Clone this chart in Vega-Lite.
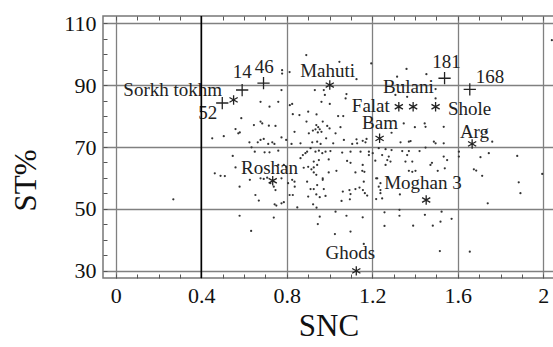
{
  "$schema": "https://vega.github.io/schema/vega-lite/v6.json",
  "width": 451,
  "height": 262,
  "autosize": {"type": "none"},
  "padding": {"left": 103, "top": 16, "right": 0, "bottom": 69},
  "background": "white",
  "config": {
    "view": {"stroke": "#777", "strokeWidth": 1.5},
    "axis": {"labelFont": "Liberation Serif", "titleFont": "Liberation Serif", "labelColor": "#111", "titleColor": "#111", "gridColor": "#808080", "gridWidth": 1.3, "tickColor": "#555", "tickWidth": 1, "domain": false},
    "text": {"font": "Liberation Serif"}
  },
  "datasets": {
    "dots": [
      {"x":0.891,"y":99.7},{"x":0.778,"y":94.8},{"x":0.778,"y":93.7},{"x":0.813,"y":94.2},{"x":0.775,"y":88.4},{"x":0.931,"y":88.4},{"x":0.973,"y":88.4},{"x":1.046,"y":97.5},{"x":1.126,"y":91.9},{"x":1.195,"y":97.0},{"x":1.360,"y":95.2},{"x":1.316,"y":92.7},{"x":1.453,"y":93.5},{"x":1.340,"y":90.0},{"x":1.496,"y":88.7},{"x":1.363,"y":86.2},{"x":1.496,"y":85.7},{"x":1.308,"y":86.8},{"x":2.04,"y":104.5},{"x":1.075,"y":85.7},
      {"x":0.677,"y":84.6},{"x":0.719,"y":83.0},{"x":0.760,"y":84.6},{"x":0.814,"y":83.5},{"x":0.587,"y":79.3},{"x":0.677,"y":78.2},{"x":0.685,"y":77.6},{"x":0.646,"y":77.1},{"x":0.716,"y":76.9},{"x":0.747,"y":76.8},{"x":0.560,"y":75.8},{"x":0.580,"y":74.7},{"x":0.573,"y":74.4},{"x":0.451,"y":72.8},{"x":0.505,"y":73.5},{"x":0.775,"y":73.1},{"x":0.625,"y":71.5},{"x":0.664,"y":71.5},{"x":0.677,"y":72.3},{"x":0.692,"y":72.6},{"x":0.713,"y":71.0},{"x":0.732,"y":71.5},{"x":0.742,"y":71.0},{"x":0.797,"y":72.3},{"x":0.650,"y":68.5},{"x":0.696,"y":68.3},{"x":0.719,"y":68.3},{"x":0.760,"y":68.8},{"x":0.547,"y":67.1},{"x":0.635,"y":69.9},{"x":0.760,"y":64.2},{"x":0.786,"y":64.2},{"x":0.797,"y":63.6},
      {"x":0.978,"y":86.8},{"x":1.079,"y":87.1},{"x":0.825,"y":83.9},{"x":0.962,"y":84.6},{"x":1.001,"y":83.9},{"x":0.828,"y":80.6},{"x":0.859,"y":80.3},{"x":0.900,"y":81.4},{"x":0.939,"y":80.5},{"x":1.040,"y":80.0},{"x":1.064,"y":80.0},{"x":0.892,"y":78.2},{"x":0.938,"y":77.1},{"x":0.947,"y":76.4},{"x":0.954,"y":75.7},{"x":0.934,"y":75.7},{"x":0.962,"y":74.9},{"x":0.945,"y":74.7},{"x":0.968,"y":78.2},{"x":0.989,"y":76.8},{"x":1.000,"y":76.0},{"x":1.051,"y":76.4},{"x":0.836,"y":74.9},{"x":0.903,"y":74.4},{"x":0.922,"y":75.3},{"x":1.028,"y":74.4},{"x":0.984,"y":72.8},{"x":0.864,"y":71.2},{"x":0.919,"y":71.5},{"x":0.942,"y":71.7},{"x":0.958,"y":71.0},{"x":1.017,"y":71.2},{"x":1.067,"y":72.3},{"x":1.126,"y":72.5},{"x":1.129,"y":71.2},{"x":1.155,"y":72.0},{"x":1.168,"y":71.5},{"x":1.173,"y":72.6},{"x":1.106,"y":71.0},{"x":0.822,"y":71.0},{"x":0.911,"y":69.6},{"x":0.895,"y":68.5},{"x":0.887,"y":68.0},{"x":0.875,"y":67.4},{"x":0.864,"y":66.4},{"x":0.934,"y":68.5},{"x":0.950,"y":68.8},{"x":0.966,"y":68.0},{"x":0.981,"y":68.5},{"x":1.004,"y":68.7},{"x":0.950,"y":65.8},{"x":0.996,"y":66.0},{"x":0.926,"y":65.3},{"x":0.942,"y":64.2},{"x":0.926,"y":63.4},{"x":1.059,"y":68.2},{"x":1.098,"y":68.5},{"x":1.082,"y":65.5},{"x":1.098,"y":64.9},{"x":1.145,"y":68.5},{"x":1.184,"y":68.5},{"x":1.155,"y":64.2},{"x":1.184,"y":67.4},{"x":1.202,"y":68.0},{"x":1.214,"y":65.6},
      {"x":1.347,"y":77.6},{"x":1.399,"y":76.4},{"x":1.445,"y":77.6},{"x":1.449,"y":76.5},{"x":1.534,"y":76.5},{"x":1.290,"y":74.6},{"x":1.332,"y":71.5},{"x":1.371,"y":71.7},{"x":1.379,"y":71.9},{"x":1.488,"y":71.7},{"x":1.496,"y":71.2},{"x":1.534,"y":71.2},{"x":1.230,"y":69.6},{"x":1.262,"y":69.3},{"x":1.290,"y":69.0},{"x":1.340,"y":68.7},{"x":1.371,"y":68.7},{"x":1.421,"y":68.7},{"x":1.449,"y":69.8},{"x":1.246,"y":67.4},{"x":1.277,"y":66.9},{"x":1.270,"y":65.8},{"x":1.285,"y":65.3},{"x":1.262,"y":64.2},{"x":1.363,"y":67.4},{"x":1.355,"y":65.3},{"x":1.387,"y":65.3},{"x":1.479,"y":64.9},{"x":1.472,"y":64.2},{"x":1.534,"y":66.9},{"x":1.550,"y":65.8},{"x":1.605,"y":68.5},{"x":1.605,"y":66.9},
      {"x":0.463,"y":61.5},{"x":0.490,"y":60.7},{"x":0.510,"y":60.6},{"x":0.560,"y":63.4},{"x":0.627,"y":59.4},{"x":0.677,"y":59.9},{"x":0.692,"y":59.7},{"x":0.708,"y":60.1},{"x":0.775,"y":59.9},{"x":0.579,"y":57.2},{"x":0.739,"y":57.2},{"x":0.747,"y":56.1},{"x":0.723,"y":58.3},{"x":0.806,"y":58.3},{"x":0.653,"y":54.5},{"x":0.669,"y":52.7},{"x":0.743,"y":51.5},{"x":0.751,"y":51.1},{"x":0.775,"y":51.8},{"x":0.786,"y":52.2},{"x":0.813,"y":54.5},{"x":0.579,"y":47.8},{"x":0.739,"y":47.2},{"x":0.633,"y":42.9},
      {"x":0.879,"y":63.3},{"x":0.900,"y":63.6},{"x":0.915,"y":62.8},{"x":0.926,"y":61.8},{"x":0.996,"y":61.8},{"x":1.032,"y":62.3},{"x":1.121,"y":61.8},{"x":1.153,"y":62.3},{"x":1.163,"y":62.0},{"x":0.825,"y":59.4},{"x":0.836,"y":58.8},{"x":0.895,"y":58.8},{"x":0.938,"y":61.0},{"x":0.968,"y":59.9},{"x":0.968,"y":59.4},{"x":0.837,"y":57.2},{"x":0.942,"y":57.7},{"x":0.911,"y":56.4},{"x":0.926,"y":56.4},{"x":0.973,"y":56.4},{"x":0.828,"y":54.5},{"x":0.938,"y":54.7},{"x":0.954,"y":53.8},{"x":0.900,"y":54.0},{"x":0.981,"y":54.2},{"x":1.062,"y":55.6},{"x":1.093,"y":56.1},{"x":1.098,"y":54.8},{"x":1.121,"y":56.4},{"x":1.140,"y":56.9},{"x":1.056,"y":52.6},{"x":1.095,"y":53.1},{"x":1.156,"y":56.1},{"x":1.165,"y":55.1},{"x":1.176,"y":54.3},{"x":1.160,"y":58.8},{"x":1.218,"y":59.9},{"x":1.218,"y":53.2},{"x":0.923,"y":51.5},{"x":0.939,"y":50.4},{"x":0.849,"y":50.5},{"x":1.028,"y":49.1},{"x":0.954,"y":47.5},{"x":1.079,"y":47.8},{"x":1.155,"y":47.3},{"x":0.945,"y":45.1},{"x":1.098,"y":42.7},{"x":1.025,"y":41.9},{"x":1.160,"y":38.7},
      {"x":1.371,"y":62.3},{"x":1.387,"y":62.0},{"x":1.402,"y":62.3},{"x":1.506,"y":62.3},{"x":1.539,"y":63.1},{"x":1.223,"y":59.9},{"x":1.238,"y":56.1},{"x":1.238,"y":55.1},{"x":1.246,"y":53.4},{"x":1.329,"y":54.7},{"x":1.238,"y":58.3},{"x":1.230,"y":57.2},{"x":1.257,"y":48.9},{"x":1.327,"y":49.7},{"x":1.327,"y":47.8},{"x":1.446,"y":48.1},{"x":1.524,"y":49.1},{"x":1.571,"y":46.8},{"x":1.519,"y":45.9},{"x":1.483,"y":44.6},{"x":1.391,"y":44.6},{"x":1.257,"y":44.5},
      {"x":1.730,"y":74.9},{"x":1.761,"y":71.7},{"x":1.745,"y":68.0},{"x":1.706,"y":66.7},{"x":1.878,"y":67.1},{"x":1.675,"y":62.8},{"x":1.686,"y":62.4},{"x":1.714,"y":60.7},{"x":1.995,"y":61.3},{"x":1.885,"y":58.6},{"x":1.893,"y":55.1},{"x":1.740,"y":51.8},{"x":1.656,"y":36.2},{"x":1.516,"y":36.4},{"x":0.269,"y":53.1}
    ],
    "markers": [
      {"name":"14","kind":"plus","x":0.591,"y":88.4},
      {"name":"46","kind":"plus","x":0.691,"y":90.6},
      {"name":"52","kind":"plus","x":0.498,"y":84.2},
      {"name":"181","kind":"plus","x":1.538,"y":92.2},
      {"name":"168","kind":"plus","x":1.656,"y":88.6},
      {"name":"Sorkh tokhm","kind":"star","x":0.551,"y":85.2},
      {"name":"Mahuti","kind":"star","x":1.001,"y":90.0},
      {"name":"Falat","kind":"star","x":1.324,"y":83.0},
      {"name":"Bulani","kind":"star","x":1.391,"y":83.0},
      {"name":"Shole","kind":"star","x":1.496,"y":83.0},
      {"name":"Bam","kind":"star","x":1.234,"y":72.8},
      {"name":"Arg","kind":"star","x":1.667,"y":71.0},
      {"name":"Roshan","kind":"star","x":0.734,"y":59.1},
      {"name":"Moghan 3","kind":"star","x":1.452,"y":52.9},
      {"name":"Ghods","kind":"star","x":1.125,"y":30.0}
    ],
    "labels": [
      {"text":"Sorkh tokhm","x":0.266,"y":88.4},
      {"text":"14","x":0.591,"y":94.2},
      {"text":"46","x":0.694,"y":95.9},
      {"text":"52","x":0.430,"y":81.1},
      {"text":"Mahuti","x":0.991,"y":94.5},
      {"text":"181","x":1.547,"y":97.5},
      {"text":"168","x":1.751,"y":92.6},
      {"text":"Bulani","x":1.369,"y":89.5},
      {"text":"Falat","x":1.193,"y":83.2},
      {"text":"Shole","x":1.655,"y":82.3},
      {"text":"Bam","x":1.236,"y":77.6},
      {"text":"Arg","x":1.678,"y":75.0},
      {"text":"Roshan","x":0.719,"y":63.2},
      {"text":"Moghan 3","x":1.437,"y":58.3},
      {"text":"Ghods","x":1.097,"y":35.7}
    ]
  },
  "encoding": {
    "y": {"field": "y", "type": "quantitative", "scale": {"domain": [27.7, 112.3], "nice": false, "zero": false},
      "axis": {"orient": "left", "title": "ST%", "titleFontSize": 31, "titleFontWeight": "normal", "titleBaseline": "middle", "titleX": -77, "titleY": 164, "titleAngle": -90,
        "values": [30,35,40,45,50,55,60,65,70,75,80,85,90,95,100,105,110],
        "labelExpr": "datum.value % 20 == 10 ? datum.label : ''",
        "labelFontSize": 22, "labelPadding": 11, "tickSize": -4, "labelFlush": false, "labelOverlap": false,
        "gridOpacity": {"condition": {"test": "datum.value % 20 == 10", "value": 1}, "value": 0}}}
  },
  "layer": [
    {
      "data": {"name": "dots"},
      "mark": {"type": "point", "shape": "circle", "filled": true, "size": 5, "color": "#333", "opacity": 1},
      "encoding": {
        "x": {"field": "x", "type": "quantitative", "scale": {"domain": [-0.06, 2.05], "nice": false, "zero": false},
          "axis": {"orient": "bottom", "title": "SNC", "titleFontSize": 31, "titleFontWeight": "normal", "titleBaseline": "middle", "titleY": 48,
            "values": [0,0.1,0.2,0.3,0.4,0.5,0.6,0.7,0.8,0.9,1,1.1,1.2,1.3,1.4,1.5,1.6,1.7,1.8,1.9,2],
            "labelExpr": "round(datum.value*10) % 4 == 0 ? format(datum.value, '~g') : ''",
            "labelFontSize": 22, "labelPadding": 11, "tickSize": -4, "labelFlush": false, "labelOverlap": false,
            "gridOpacity": {"condition": {"test": "round(datum.value*10) % 4 == 0", "value": 1}, "value": 0}}}
      }
    },
    {
      "data": {"name": "markers"},
      "transform": [{"filter": "datum.kind == 'plus'"}],
      "mark": {"type": "point", "shape": "M-1,0H1M0,-1V1", "size": 150, "filled": false, "stroke": "#222", "strokeWidth": 1.3, "opacity": 1},
      "encoding": {
        "x": {"field": "x", "type": "quantitative", "scale": {"domain": [-0.06, 2.05], "nice": false, "zero": false},
          "axis": {"orient": "top", "title": null, "labels": false, "grid": false, "tickSize": -4,
            "values": [0,0.1,0.2,0.3,0.4,0.5,0.6,0.7,0.8,0.9,1,1.1,1.2,1.3,1.4,1.5,1.6,1.7,1.8,1.9,2]}}
      }
    },
    {
      "data": {"name": "markers"},
      "transform": [{"filter": "datum.kind == 'star'"}],
      "mark": {"type": "point", "shape": "M0,-1V1M-0.866,-0.5L0.866,0.5M-0.866,0.5L0.866,-0.5", "size": 90, "filled": false, "stroke": "#222", "strokeWidth": 1.3, "opacity": 1},
      "encoding": {
        "x": {"field": "x", "type": "quantitative", "scale": {"domain": [-0.06, 2.05], "nice": false, "zero": false}, "axis": null}
      }
    },
    {
      "data": {"name": "labels"},
      "mark": {"type": "text", "fontSize": 19, "color": "#222", "baseline": "middle", "align": "center"},
      "encoding": {
        "x": {"field": "x", "type": "quantitative", "scale": {"domain": [-0.06, 2.05], "nice": false, "zero": false}, "axis": null},
        "text": {"field": "text"}
      }
    },
    {
      "data": {"values": [{}]},
      "mark": {"type": "rule", "color": "#000", "strokeWidth": 1.6},
      "encoding": {
        "x": {"datum": 0.4, "type": "quantitative", "scale": {"domain": [-0.06, 2.05], "nice": false, "zero": false}, "axis": null},
        "y": null
      }
    }
  ],
  "resolve": {"axis": {"x": "independent"}}
}
